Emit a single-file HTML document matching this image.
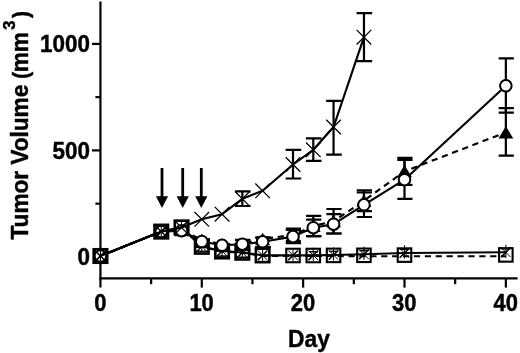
<!DOCTYPE html>
<html><head><meta charset="utf-8"><title>Tumor Volume</title>
<style>
html,body{margin:0;padding:0;background:#fff;}
body{width:520px;height:353px;overflow:hidden;}
svg{display:block;}
text{font-family:"Liberation Sans",sans-serif;font-weight:bold;fill:#000;stroke:#000;stroke-width:0.45px;stroke-linejoin:round;}
</style></head><body>
<svg width="520" height="353" viewBox="0 0 520 353">
<rect width="520" height="353" fill="#fff"/>

<g stroke="#000" stroke-width="2.2" fill="none" stroke-linecap="butt">
<line x1="100.45" y1="1.5" x2="100.45" y2="287.6"/>
<line x1="99.4" y1="278.3" x2="517.6" y2="278.3"/>
<line x1="151.12" y1="278.3" x2="151.12" y2="284.2"/>
<line x1="201.8" y1="278.3" x2="201.8" y2="287.6"/>
<line x1="252.48" y1="278.3" x2="252.48" y2="284.2"/>
<line x1="303.15" y1="278.3" x2="303.15" y2="287.6"/>
<line x1="353.82" y1="278.3" x2="353.82" y2="284.2"/>
<line x1="404.5" y1="278.3" x2="404.5" y2="287.6"/>
<line x1="455.17" y1="278.3" x2="455.17" y2="284.2"/>
<line x1="505.85" y1="278.3" x2="505.85" y2="287.6"/>
<line x1="94" y1="256.9" x2="100.45" y2="256.9"/>
<line x1="95.4" y1="203.65" x2="100.45" y2="203.65"/>
<line x1="92" y1="150.4" x2="100.45" y2="150.4"/>
<line x1="95.4" y1="97.15" x2="100.45" y2="97.15"/>
<line x1="92" y1="43.9" x2="100.45" y2="43.9"/>
</g>
<g font-size="23.5">
<text transform="translate(100.25,310.5) scale(0.935,1)" text-anchor="middle">0</text>
<text transform="translate(201.6,310.5) scale(0.935,1)" text-anchor="middle">10</text>
<text transform="translate(302.95,310.5) scale(0.935,1)" text-anchor="middle">20</text>
<text transform="translate(404.3,310.5) scale(0.935,1)" text-anchor="middle">30</text>
<text transform="translate(505.65,310.5) scale(0.935,1)" text-anchor="middle">40</text>
<text transform="translate(90,265.15) scale(0.955,1)" text-anchor="end">0</text>
<text transform="translate(90,158.65) scale(0.955,1)" text-anchor="end">500</text>
<text transform="translate(90,52.15) scale(0.955,1)" text-anchor="end">1000</text>
<text transform="translate(308.9,346.5) scale(0.97,1)" text-anchor="middle">Day</text>
<text transform="translate(27.7,239.5) rotate(-90) scale(0.95,1)" text-anchor="start"><tspan font-size="24" letter-spacing="-0.12">Tumor Volume </tspan><tspan font-size="22" dx="-0.2">(</tspan><tspan font-size="24" dx="-0.6" letter-spacing="-0.3">mm</tspan><tspan dx="2.8" dy="-12.8" font-size="17.3">3</tspan><tspan dy="12.8" dx="2.6" font-size="22">)</tspan></text>
</g>
<rect x="93.7" y="249.25" width="13.5" height="13.5" fill="#fff" stroke="#000" stroke-width="2.6"/>
<rect x="154.51" y="224.85" width="13.5" height="13.5" fill="#fff" stroke="#000" stroke-width="2.6"/>
<rect x="174.78" y="220.65" width="13.5" height="13.5" fill="#fff" stroke="#000" stroke-width="2.6"/>
<rect x="195.05" y="240.05" width="13.5" height="13.5" fill="#fff" stroke="#000" stroke-width="2.6"/>
<rect x="215.32" y="244.75" width="13.5" height="13.5" fill="#fff" stroke="#000" stroke-width="2.6"/>
<rect x="235.59" y="245.95" width="13.5" height="13.5" fill="#fff" stroke="#000" stroke-width="2.6"/>
<rect x="255.86" y="248.65" width="13.5" height="13.5" fill="#fff" stroke="#000" stroke-width="2.6"/>
<rect x="286.26" y="248.75" width="13.5" height="13.5" fill="#fff" stroke="#000" stroke-width="2.1"/>
<rect x="306.54" y="248.75" width="13.5" height="13.5" fill="#fff" stroke="#000" stroke-width="2.1"/>
<rect x="326.81" y="248.65" width="13.5" height="13.5" fill="#fff" stroke="#000" stroke-width="2.1"/>
<rect x="357.21" y="248.55" width="13.5" height="13.5" fill="#fff" stroke="#000" stroke-width="2.1"/>
<rect x="397.75" y="248.35" width="13.5" height="13.5" fill="#fff" stroke="#000" stroke-width="2.1"/>
<rect x="499.1" y="248.15" width="13.5" height="13.5" fill="#fff" stroke="#000" stroke-width="2.1"/>
<polyline points="100.45,256 161.26,231.6 181.53,227.6 201.8,246.8 222.07,251.5 242.34,252.7 262.61,255.8 293.01,255.8 313.29,255.8 333.56,256 363.96,256.2 404.5,256.2 505.85,256.2" fill="none" stroke="#000" stroke-width="2.15" stroke-dasharray="6.2 4.7" stroke-linejoin="round"/>
<polyline points="100.45,256 161.26,231.6 181.53,227.6 201.8,246.5 222.07,251 242.34,252.5 262.61,255.3 293.01,255.3 313.29,255.3 333.56,255 363.96,254.3 404.5,253 505.85,252.3" fill="none" stroke="#000" stroke-width="2.15" stroke-linejoin="round"/>
<path d="M100.45 250.4V261.6M95.65 251.2L105.25 260.8" stroke="#000" stroke-width="1" fill="none"/><path d="M95.65 260.8L105.25 251.2" stroke="#000" stroke-width="1.5" fill="none"/>
<path d="M161.26 226.0V237.2M156.46 226.8L166.06 236.4" stroke="#000" stroke-width="1" fill="none"/><path d="M156.46 236.4L166.06 226.8" stroke="#000" stroke-width="1.5" fill="none"/>
<path d="M181.53 222.0V233.2M176.73 222.8L186.33 232.4" stroke="#000" stroke-width="1" fill="none"/><path d="M176.73 232.4L186.33 222.8" stroke="#000" stroke-width="1.5" fill="none"/>
<path d="M201.8 240.9V252.1M197.0 241.7L206.6 251.3" stroke="#000" stroke-width="1" fill="none"/><path d="M197.0 251.3L206.6 241.7" stroke="#000" stroke-width="1.5" fill="none"/>
<path d="M222.07 245.4V256.6M217.27 246.2L226.87 255.8" stroke="#000" stroke-width="1" fill="none"/><path d="M217.27 255.8L226.87 246.2" stroke="#000" stroke-width="1.5" fill="none"/>
<path d="M242.34 246.9V258.1M237.54 247.7L247.14 257.3" stroke="#000" stroke-width="1" fill="none"/><path d="M237.54 257.3L247.14 247.7" stroke="#000" stroke-width="1.5" fill="none"/>
<path d="M262.61 249.7V260.9M257.81 250.5L267.41 260.1" stroke="#000" stroke-width="1" fill="none"/><path d="M257.81 260.1L267.41 250.5" stroke="#000" stroke-width="1.5" fill="none"/>
<path d="M293.01 249.7V260.9M288.21 250.5L297.81 260.1" stroke="#000" stroke-width="1" fill="none"/><path d="M288.21 260.1L297.81 250.5" stroke="#000" stroke-width="1.5" fill="none"/>
<path d="M313.29 247.7V260.9M308.49 250.5L318.09 260.1" stroke="#000" stroke-width="1" fill="none"/><path d="M308.49 260.1L318.09 250.5" stroke="#000" stroke-width="1.5" fill="none"/>
<path d="M333.56 247.4V260.6M328.76 250.2L338.36 259.8" stroke="#000" stroke-width="1" fill="none"/><path d="M328.76 259.8L338.36 250.2" stroke="#000" stroke-width="1.5" fill="none"/>
<path d="M363.96 246.7V259.9M359.16 249.5L368.76 259.1" stroke="#000" stroke-width="1" fill="none"/><path d="M359.16 259.1L368.76 249.5" stroke="#000" stroke-width="1.5" fill="none"/>
<path d="M404.5 245.4V258.6M399.7 248.2L409.3 257.8" stroke="#000" stroke-width="1" fill="none"/><path d="M399.7 257.8L409.3 248.2" stroke="#000" stroke-width="1.5" fill="none"/>
<path d="M505.85 244.7V257.9M501.05 247.5L510.65 257.1" stroke="#000" stroke-width="1" fill="none"/><path d="M501.05 257.1L510.65 247.5" stroke="#000" stroke-width="1.5" fill="none"/>
<path d="M195.8 251.4H207.8" stroke="#000" stroke-width="1.6" fill="none"/>
<path d="M216.07 256.1H228.07" stroke="#000" stroke-width="1.6" fill="none"/>
<path d="M236.34 257.3H248.34" stroke="#000" stroke-width="1.6" fill="none"/>
<path d="M308.79 251.7H317.79" stroke="#000" stroke-width="1.4" fill="none"/>
<path d="M329.06 251.4H338.06" stroke="#000" stroke-width="1.4" fill="none"/>
<path d="M359.46 250.7H368.46" stroke="#000" stroke-width="1.4" fill="none"/>
<path d="M400.0 249.4H409.0" stroke="#000" stroke-width="1.4" fill="none"/>
<path d="M501.35 248.7H510.35" stroke="#000" stroke-width="1.4" fill="none"/>
<path d="M201.8 239.4V246.8M194.6 239.4H209.8M194.6 246.8H209.8" stroke="#000" stroke-width="2.2" fill="none"/>
<path d="M222.07 244.1V250.6M214.87 244.1H230.07M214.87 250.6H230.07" stroke="#000" stroke-width="2.2" fill="none"/>
<path d="M242.34 239.8V250.2M235.14 239.8H250.34M235.14 250.2H250.34" stroke="#000" stroke-width="2.2" fill="none"/>
<path d="M262.61 237.4V246.8M255.41 237.4H270.61M255.41 246.8H270.61" stroke="#000" stroke-width="2.2" fill="none"/>
<path d="M293.01 228.6V241.4M285.81 228.6H301.01M285.81 241.4H301.01" stroke="#000" stroke-width="2.2" fill="none"/>
<path d="M313.29 215.8V236.2M306.09 215.8H321.29M306.09 236.2H321.29" stroke="#000" stroke-width="2.2" fill="none"/>
<path d="M333.56 209V233.5M326.36 209H341.56M326.36 233.5H341.56" stroke="#000" stroke-width="2.2" fill="none"/>
<path d="M363.96 190.4V211.1M356.76 190.4H371.96M356.76 211.1H371.96" stroke="#000" stroke-width="2.2" fill="none"/>
<path d="M404.5 157.8V184.8M397.3 157.8H412.5M397.3 184.8H412.5" stroke="#000" stroke-width="2.2" fill="none"/>
<path d="M505.85 108.1V155.7M498.65 108.1H513.85M498.65 155.7H513.85" stroke="#000" stroke-width="2.2" fill="none"/>
<polyline points="100.45,256 161.26,231.6 181.53,230.2 201.8,239.6 222.07,244.4 242.34,243.6 262.61,238.9 293.01,235 313.29,226 333.56,221.3 363.96,200.7 404.5,171.3 505.85,132.4" fill="none" stroke="#000" stroke-width="2.15" stroke-dasharray="6.2 4.7" stroke-linejoin="round"/>
<path d="M100.45 249.8L107.85 262H93.05Z" fill="#000"/>
<path d="M161.26 225.4L168.66 237.6H153.86Z" fill="#000"/>
<path d="M181.53 224.0L188.93 236.2H174.13Z" fill="#000"/>
<path d="M201.8 233.4L209.2 245.6H194.4Z" fill="#000"/>
<path d="M222.07 238.2L229.47 250.4H214.67Z" fill="#000"/>
<path d="M242.34 237.4L249.74 249.6H234.94Z" fill="#000"/>
<path d="M262.61 232.7L270.01 244.9H255.21Z" fill="#000"/>
<path d="M293.01 228.8L300.41 241H285.61Z" fill="#000"/>
<path d="M313.29 219.8L320.69 232H305.89Z" fill="#000"/>
<path d="M333.56 215.1L340.96 227.3H326.16Z" fill="#000"/>
<path d="M363.96 194.5L371.36 206.7H356.56Z" fill="#000"/>
<path d="M404.5 165.1L411.9 177.3H397.1Z" fill="#000"/>
<path d="M505.85 126.2L513.25 138.4H498.45Z" fill="#000"/>
<path d="M201.8 239.6V246.5M194.6 239.6H209.8M194.6 246.5H209.8" stroke="#000" stroke-width="2.2" fill="none"/>
<path d="M222.07 244.3V250.3M214.87 244.3H230.07M214.87 250.3H230.07" stroke="#000" stroke-width="2.2" fill="none"/>
<path d="M242.34 240.2V249.8M235.14 240.2H250.34M235.14 249.8H250.34" stroke="#000" stroke-width="2.2" fill="none"/>
<path d="M262.61 237.8V247.1M255.41 237.8H270.61M255.41 247.1H270.61" stroke="#000" stroke-width="2.2" fill="none"/>
<path d="M293.01 230V243.2M285.81 230H301.01M285.81 243.2H301.01" stroke="#000" stroke-width="2.2" fill="none"/>
<path d="M313.29 219.7V236.2M306.09 219.7H321.29M306.09 236.2H321.29" stroke="#000" stroke-width="2.2" fill="none"/>
<path d="M333.56 214.2V233.5M326.36 214.2H341.56M326.36 233.5H341.56" stroke="#000" stroke-width="2.2" fill="none"/>
<path d="M363.96 192.5V217M356.76 192.5H371.96M356.76 217H371.96" stroke="#000" stroke-width="2.2" fill="none"/>
<path d="M404.5 159.9V198.9M397.3 159.9H412.5M397.3 198.9H412.5" stroke="#000" stroke-width="2.2" fill="none"/>
<path d="M505.85 58.3V112.65M498.65 58.3H513.85M498.65 112.65H513.85" stroke="#000" stroke-width="2.2" fill="none"/>
<polyline points="100.45,256 161.26,231.6 181.53,230.7 201.8,241.5 222.07,245.3 242.34,244.2 262.61,241.8 293.01,236.6 313.29,227.7 333.56,224.2 363.96,204.8 404.5,179.7 505.85,85.8" fill="none" stroke="#000" stroke-width="2.15" stroke-linejoin="round"/>
<circle cx="100.45" cy="256" r="5.8" fill="#fff" stroke="#000" stroke-width="2"/>
<circle cx="161.26" cy="231.6" r="5.8" fill="#fff" stroke="#000" stroke-width="2"/>
<circle cx="181.53" cy="230.7" r="5.8" fill="#fff" stroke="#000" stroke-width="2"/>
<circle cx="201.8" cy="241.5" r="5.8" fill="#fff" stroke="#000" stroke-width="2"/>
<circle cx="222.07" cy="245.3" r="5.8" fill="#fff" stroke="#000" stroke-width="2"/>
<circle cx="242.34" cy="244.2" r="5.8" fill="#fff" stroke="#000" stroke-width="2"/>
<circle cx="262.61" cy="241.8" r="5.8" fill="#fff" stroke="#000" stroke-width="2"/>
<circle cx="293.01" cy="236.6" r="5.8" fill="#fff" stroke="#000" stroke-width="2"/>
<circle cx="313.29" cy="227.7" r="5.8" fill="#fff" stroke="#000" stroke-width="2"/>
<circle cx="333.56" cy="224.2" r="5.8" fill="#fff" stroke="#000" stroke-width="2"/>
<circle cx="363.96" cy="204.8" r="5.8" fill="#fff" stroke="#000" stroke-width="2"/>
<circle cx="404.5" cy="179.7" r="5.8" fill="#fff" stroke="#000" stroke-width="2"/>
<circle cx="505.85" cy="85.8" r="5.8" fill="#fff" stroke="#000" stroke-width="2"/>
<path d="M242.34 191.3V206M234.94 191.3H250.54M234.94 206H250.54" stroke="#000" stroke-width="2.2" fill="none"/>
<path d="M293.01 149.8V178.5M285.61 149.8H301.21M285.61 178.5H301.21" stroke="#000" stroke-width="2.2" fill="none"/>
<path d="M313.29 138.4V160.8M305.89 138.4H321.49M305.89 160.8H321.49" stroke="#000" stroke-width="2.2" fill="none"/>
<path d="M333.56 100.8V154.6M326.16 100.8H341.76M326.16 154.6H341.76" stroke="#000" stroke-width="2.2" fill="none"/>
<path d="M363.96 13.1V61.2M356.56 13.1H372.16M356.56 61.2H372.16" stroke="#000" stroke-width="2.2" fill="none"/>
<polyline points="100.45,256 161.26,231.6 181.53,227.6 201.8,219.3 222.07,214.2 242.34,198.8 262.61,190.8 293.01,164.5 313.29,149.8 333.56,127 363.96,37.2" fill="none" stroke="#000" stroke-width="2.15" stroke-linejoin="round"/>
<path d="M93.15 248.7L107.75 263.3M93.15 263.3L107.75 248.7" stroke="#000" stroke-width="1.25" fill="none"/>
<path d="M153.95999999999998 224.29999999999998L168.56 238.9M153.95999999999998 238.9L168.56 224.29999999999998" stroke="#000" stroke-width="1.25" fill="none"/>
<path d="M174.23 220.29999999999998L188.83 234.9M174.23 234.9L188.83 220.29999999999998" stroke="#000" stroke-width="1.25" fill="none"/>
<path d="M194.5 212.0L209.10000000000002 226.60000000000002M194.5 226.60000000000002L209.10000000000002 212.0" stroke="#000" stroke-width="1.25" fill="none"/>
<path d="M214.76999999999998 206.89999999999998L229.37 221.5M214.76999999999998 221.5L229.37 206.89999999999998" stroke="#000" stroke-width="1.25" fill="none"/>
<path d="M235.04 191.5L249.64000000000001 206.10000000000002M235.04 206.10000000000002L249.64000000000001 191.5" stroke="#000" stroke-width="1.25" fill="none"/>
<path d="M255.31 183.5L269.91 198.10000000000002M255.31 198.10000000000002L269.91 183.5" stroke="#000" stroke-width="1.25" fill="none"/>
<path d="M285.71 157.2L300.31 171.8M285.71 171.8L300.31 157.2" stroke="#000" stroke-width="1.25" fill="none"/>
<path d="M305.99 142.5L320.59000000000003 157.10000000000002M305.99 157.10000000000002L320.59000000000003 142.5" stroke="#000" stroke-width="1.25" fill="none"/>
<path d="M326.26 119.7L340.86 134.3M326.26 134.3L340.86 119.7" stroke="#000" stroke-width="1.25" fill="none"/>
<path d="M356.65999999999997 29.900000000000002L371.26 44.5M356.65999999999997 44.5L371.26 29.900000000000002" stroke="#000" stroke-width="1.25" fill="none"/>
<path d="M100.45 250.4V261.6M95.65 251.2L105.25 260.8" stroke="#000" stroke-width="1" fill="none"/><path d="M95.65 260.8L105.25 251.2" stroke="#000" stroke-width="1.5" fill="none"/>
<path d="M161.26 226.0V237.2M156.46 226.8L166.06 236.4" stroke="#000" stroke-width="1" fill="none"/><path d="M156.46 236.4L166.06 226.8" stroke="#000" stroke-width="1.5" fill="none"/>
<path d="M162 168V198" stroke="#000" stroke-width="2.8" fill="none"/><path d="M155.9 196.2H168.1L162 207.9Z" fill="#000"/>
<path d="M182.7 168V198" stroke="#000" stroke-width="2.8" fill="none"/><path d="M176.6 196.2H188.8L182.7 207.9Z" fill="#000"/>
<path d="M201.3 168V198" stroke="#000" stroke-width="2.8" fill="none"/><path d="M195.2 196.2H207.4L201.3 207.9Z" fill="#000"/>
</svg></body></html>
